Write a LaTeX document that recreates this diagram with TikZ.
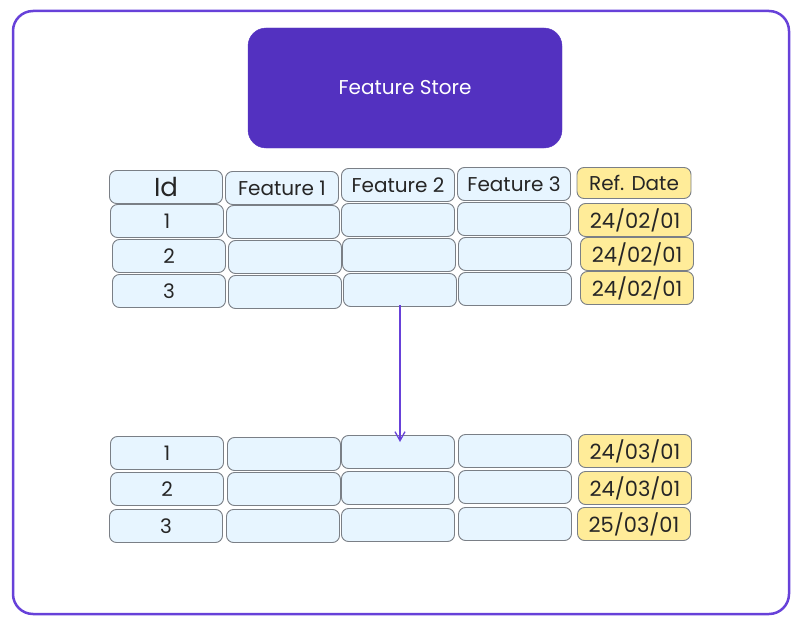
\documentclass[tikz,border=0pt]{standalone}
\usepackage{fontspec}
\setmainfont{Poppins}
\usetikzlibrary{arrows.meta}
\definecolor{frame}{HTML}{6741D9}
\definecolor{store}{HTML}{5331C0}
\definecolor{cellfill}{HTML}{E7F5FF}
\definecolor{cellline}{HTML}{7A7F86}
\definecolor{datefill}{HTML}{FFEC99}
\tikzset{
  cell/.style={draw=cellline, line width=0.9pt, fill=cellfill, rounded corners=7pt,
    minimum width=113pt, minimum height=33pt, inner sep=0pt,
    font=\fontsize{20}{22}\selectfont, text=black!85},
  datecell/.style={cell, fill=datefill, font=\fontsize{21}{23}\selectfont},
  storebox/.style={fill=store, draw=store, rounded corners=18pt, minimum width=314pt,
    minimum height=120pt, text=white, font=\fontsize{20}{22}\selectfont},
  outer/.style={draw=frame, line width=2.5pt, rounded corners=20pt},
  flow/.style={draw=frame, line width=1.3pt, -{Straight Barb[length=9pt,width=10pt]}}
}
\begin{document}
\begin{tikzpicture}[x=1pt,y=-1pt]
\useasboundingbox (0,0) rectangle (806,642);
\draw[outer] (13,11) rectangle (789,614);
\node[storebox] (store) at (405,88) {Feature Store};
% upper table header
\node[cell, font=\fontsize{26}{28}\selectfont] (hid) at (166,187) {Id};
\node[cell] (hf1) at (282,188) {Feature 1};
\node[cell] (hf2) at (398,185) {Feature 2};
\node[cell] (hf3) at (514,184) {Feature 3};
\node[datecell, font=\fontsize{20}{22}\selectfont, minimum width=114pt, minimum height=31pt] (hrd) at (634,183) {Ref. Date};
% upper rows
\node[cell] (u1id) at (167,221) {1};
\node[cell] (u1f1) at (283,222) {};
\node[cell] (u1f2) at (398,220) {};
\node[cell] (u1f3) at (514,219) {};
\node[datecell] (u1rd) at (635,220) {24/02/01};
\node[cell] (u2id) at (169,256) {2};
\node[cell] (u2f1) at (285,257) {};
\node[cell] (u2f2) at (399,255) {};
\node[cell] (u2f3) at (515,254) {};
\node[datecell] (u2rd) at (637,254) {24/02/01};
\node[cell] (u3id) at (169,291) {3};
\node[cell] (u3f1) at (285,292) {};
\node[cell] (u3f2) at (400,290) {};
\node[cell] (u3f3) at (515,289) {};
\node[datecell] (u3rd) at (637,288) {24/02/01};
% lower rows
\node[cell] (l1id) at (167,453) {1};
\node[cell] (l1f1) at (284,454) {};
\node[cell] (l1f2) at (398,452) {};
\node[cell] (l1f3) at (515,451) {};
\node[datecell] (l1rd) at (635,451) {24/03/01};
\node[cell] (l2id) at (167,489) {2};
\node[cell] (l2f1) at (284,489) {};
\node[cell] (l2f2) at (398,488) {};
\node[cell] (l2f3) at (515,487) {};
\node[datecell] (l2rd) at (635,488) {24/03/01};
\node[cell] (l3id) at (166,526) {3};
\node[cell] (l3f1) at (283,526) {};
\node[cell] (l3f2) at (398,525) {};
\node[cell] (l3f3) at (515,524) {};
\node[datecell] (l3rd) at (634,524) {25/03/01};
% arrow
\coordinate (astart) at (400,305);
\coordinate (aend) at (400,442);
\draw[flow] (astart) -- (aend);
\end{tikzpicture}
\end{document}
